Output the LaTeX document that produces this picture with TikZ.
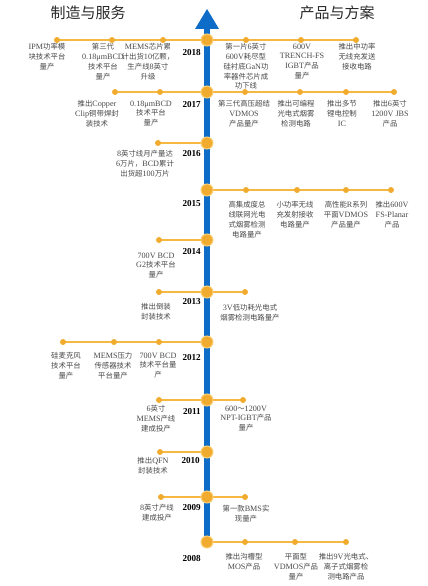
\documentclass[tikz,border=0pt]{standalone}
\usepackage{fontspec}
\setmainfont{Liberation Serif}[Scale=1.1]
\newfontfamily\cjkfont{Noto Sans CJK SC}
\newfontfamily\latinfont{Liberation Serif}[Scale=1.1]
\XeTeXinterchartokenstate=1
\newXeTeXintercharclass\cjkcls
\newcount\cjkcc
\cjkcc="4E00
\loop \XeTeXcharclass\cjkcc=\cjkcls \ifnum\cjkcc<"9FFF \advance\cjkcc by 1 \repeat
\cjkcc="3000
\loop \XeTeXcharclass\cjkcc=\cjkcls \ifnum\cjkcc<"303F \advance\cjkcc by 1 \repeat
\cjkcc="FF00
\loop \XeTeXcharclass\cjkcc=\cjkcls \ifnum\cjkcc<"FFEF \advance\cjkcc by 1 \repeat
\XeTeXinterchartoks 0 \cjkcls = {\cjkfont}
\XeTeXinterchartoks 4095 \cjkcls = {\cjkfont}
\XeTeXinterchartoks \cjkcls 0 = {\latinfont}
\XeTeXinterchartoks \cjkcls 4095 = {\latinfont}
\usetikzlibrary{backgrounds}
\definecolor{lineor}{RGB}{246,184,64}
\definecolor{dotor}{RGB}{241,172,48}
\definecolor{rimor}{RGB}{250,208,120}
\definecolor{barblue}{RGB}{12,108,200}
\definecolor{txtgray}{RGB}{72,72,72}
\definecolor{headcol}{RGB}{40,40,40}
\tikzset{
  dot/.style={circle,fill=dotor,inner sep=0,minimum size=6pt},
  yeardot/.style={circle,fill=dotor,draw=rimor,line width=1pt,inner sep=0,minimum size=12pt},
  conn/.style={draw=lineor,line width=1.6pt},
  desc/.style={anchor=north,align=center,inner sep=0,text=txtgray,font=\fontsize{7.4}{9.7}\selectfont},
  yearlbl/.style={anchor=east,inner sep=0,text=black,font=\bfseries\fontsize{8.3}{10}\selectfont},
  head/.style={inner sep=0,text=headcol,font=\cjkfont\fontsize{15}{17}\selectfont}
}
\begin{document}
\begin{tikzpicture}[x=1pt,y=-1pt]
\useasboundingbox (0,0) rectangle (428,586);
% headings
\node[head] (h1) at (88,13) {制造与服务};
\node[head] (h2) at (337,13) {产品与方案};
% year circles
\node[yeardot] (c2018) at (207,40) {};
\node[yeardot] (c2017) at (207,92) {};
\node[yeardot] (c2016) at (207,143) {};
\node[yeardot] (c2015) at (207,190) {};
\node[yeardot] (c2014) at (207,240) {};
\node[yeardot] (c2013) at (207,292) {};
\node[yeardot] (c2012) at (207,342) {};
\node[yeardot] (c2011) at (207,400) {};
\node[yeardot] (c2010) at (207,452) {};
\node[yeardot] (c2009) at (207,497) {};
\node[yeardot] (c2008) at (207,542) {};
% small dots
\node[dot] (a18l1) at (57,40) {};
\node[dot] (a18l2) at (112,40) {};
\node[dot] (a18l3) at (163,40) {};
\node[dot] (a18r1) at (246,40) {};
\node[dot] (a18r2) at (301,40) {};
\node[dot] (a18r3) at (356,40) {};
\node[dot] (a17l1) at (115,92) {};
\node[dot] (a17l2) at (160,92) {};
\node[dot] (a17r1) at (245,92) {};
\node[dot] (a17r2) at (300,92) {};
\node[dot] (a17r3) at (346,92) {};
\node[dot] (a17r4) at (394,92) {};
\node[dot] (a16l1) at (158,143) {};
\node[dot] (a15r1) at (246,190) {};
\node[dot] (a15r2) at (297,190) {};
\node[dot] (a15r3) at (346,190) {};
\node[dot] (a15r4) at (391,190) {};
\node[dot] (a14l1) at (159,240) {};
\node[dot] (a13l1) at (159,292) {};
\node[dot] (a13r1) at (245,292) {};
\node[dot] (a12l1) at (63,342) {};
\node[dot] (a12l2) at (114,342) {};
\node[dot] (a12l3) at (159,342) {};
\node[dot] (a11l1) at (159,400) {};
\node[dot] (a11r1) at (243,400) {};
\node[dot] (a10l1) at (160,452) {};
\node[dot] (a09l1) at (161,497) {};
\node[dot] (a09r1) at (245,497) {};
\node[dot] (a08r1) at (245,542) {};
\node[dot] (a08r2) at (295,542) {};
\node[dot] (a08r3) at (346,542) {};
% bar, arrow and connectors
\begin{scope}[on background layer]
\coordinate (tip) at (207,9);
\coordinate (bl) at (195,29);
\coordinate (br) at (219,29);
\coordinate (barTop) at (207,28);
\fill[barblue] (bl) -- (tip) -- (br) -- cycle;
\draw[barblue,line width=6pt] (barTop) -- (c2008.center);
\draw[conn] (a18l1.center) -- (c2018.center) -- (a18r3.center);
\draw[conn] (a17l1.center) -- (c2017.center) -- (a17r4.center);
\draw[conn] (a16l1.center) -- (c2016.center);
\draw[conn] (c2015.center) -- (a15r4.center);
\draw[conn] (a14l1.center) -- (c2014.center);
\draw[conn] (a13l1.center) -- (c2013.center) -- (a13r1.center);
\draw[conn] (a12l1.center) -- (c2012.center);
\draw[conn] (a11l1.center) -- (c2011.center) -- (a11r1.center);
\draw[conn] (a10l1.center) -- (c2010.center);
\draw[conn] (a09l1.center) -- (c2009.center) -- (a09r1.center);
\draw[conn] (c2008.center) -- (a08r3.center);
\end{scope}
% year labels
\node[yearlbl] (y2018) at (201,53) {2018};
\node[yearlbl] (y2017) at (201,105) {2017};
\node[yearlbl] (y2016) at (201,154) {2016};
\node[yearlbl] (y2015) at (201,204) {2015};
\node[yearlbl] (y2014) at (201,252) {2014};
\node[yearlbl] (y2013) at (201,302) {2013};
\node[yearlbl] (y2012) at (201,358) {2012};
\node[yearlbl] (y2011) at (201,412) {2011};
\node[yearlbl] (y2010) at (200,461) {2010};
\node[yearlbl] (y2009) at (201,508) {2009};
\node[yearlbl] (y2008) at (201,559) {2008};
% descriptions 2018
\node[desc] (t18l1) at (47,43.5) {IPM功率模\\块技术平台\\量产};
\node[desc] (t18l2) at (103,43.5) {第三代\\0.18μmBCD\\技术平台\\量产};
\node[desc] (t18l3) at (148,43.5) {MEMS芯片累\\计出货10亿颗，\\生产线8英寸\\升级};
\node[desc] (t18r1) at (246,43.5) {第一片6英寸\\600V耗尽型\\硅衬底GaN功\\率器件芯片成\\功下线};
\node[desc] (t18r2) at (302,43.5) {600V\\TRENCH-FS\\IGBT产品\\量产};
\node[desc] (t18r3) at (357,43.5) {推出中功率\\无线充发送\\接收电路};
% 2017
\node[desc] (t17l1) at (97,100.5) {推出Copper\\Clip铜带焊封\\装技术};
\node[desc] (t17l2) at (151,100.5) {0.18μmBCD\\技术平台\\量产};
\node[desc] (t17r1) at (244,100.5) {第三代高压超结\\VDMOS\\产品量产};
\node[desc] (t17r2) at (296,100.5) {推出可编程\\光电式烟雾\\检测电路};
\node[desc] (t17r3) at (342,100.5) {推出多节\\锂电控制\\IC};
\node[desc] (t17r4) at (390,100.5) {推出6英寸\\1200V JBS\\产品};
% 2016
\node[desc] (t16l1) at (145,150.5) {8英寸线月产量达\\6万片，BCD累计\\出货超100万片};
% 2015
\node[desc] (t15r1) at (247,201.5) {高集成度总\\线联网光电\\式烟雾检测\\电路量产};
\node[desc] (t15r2) at (295,201.5) {小功率无线\\充发射接收\\电路量产};
\node[desc] (t15r3) at (346,201.5) {高性能R系列\\平面VDMOS\\产品量产};
\node[desc] (t15r4) at (392,201.5) {推出600V\\FS-Planar\\产品};
% 2014
\node[desc] (t14l1) at (156,252.5) {700V BCD\\G2技术平台\\量产};
% 2013
\node[desc] (t13l1) at (156,303.5) {推出倒装\\封装技术};
\node[desc] (t13r1) at (250,304.5) {3V低功耗光电式\\烟雾检测电路量产};
% 2012
\node[desc] (t12l1) at (66,352.5) {硅麦克风\\技术平台\\量产};
\node[desc] (t12l2) at (113,352.5) {MEMS压力\\传感器技术\\平台量产};
\node[desc] (t12l3) at (158,352.5) {700V BCD\\技术平台量\\产};
% 2011
\node[desc] (t11l1) at (156,405.5) {6英寸\\MEMS产线\\建成投产};
\node[desc] (t11r1) at (246,405.5) {600～1200V\\NPT-IGBT产品\\量产};
% 2010
\node[desc] (t10l1) at (153,457.5) {推出QFN\\封装技术};
% 2009
\node[desc] (t09l1) at (157,504.5) {8英寸产线\\建成投产};
\node[desc] (t09r1) at (246,505.5) {第一款BMS实\\现量产};
% 2008
\node[desc] (t08r1) at (244,553.5) {推出沟槽型\\MOS产品};
\node[desc] (t08r2) at (296,553.5) {平面型\\VDMOS产品\\量产};
\node[desc] (t08r3) at (346,553.5) {推出9V光电式、\\离子式烟雾检\\测电路产品};
\end{tikzpicture}
\end{document}
